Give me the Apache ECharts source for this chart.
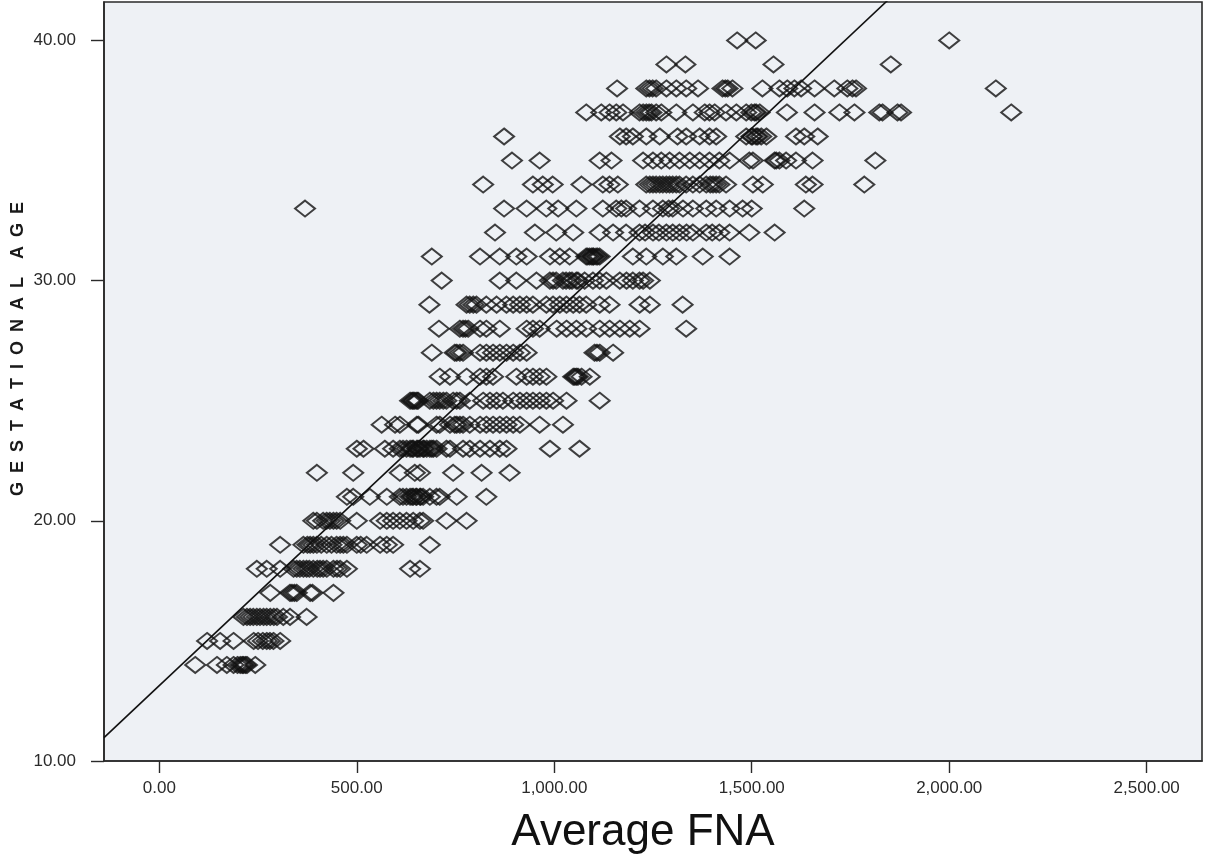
<!DOCTYPE html>
<html>
<head>
<meta charset="utf-8">
<script src="https://cdn.jsdelivr.net/npm/echarts@6/dist/echarts.min.js"></script>
<style>
  html, body { margin: 0; padding: 0; background: #ffffff; }
  #chart { width: 1205px; height: 856px; }
</style>
</head>
<body>
<div id="chart"></div>
<script>
// Average FNA values read per gestational-age row
const fna14 = [91, 146, 171, 188, 198, 205, 210, 213, 218, 222, 243];
const fna15 = [121, 154, 188, 239, 250, 262, 272, 280, 289, 306];
const fna16 = [213, 222, 230, 238, 247, 255, 264, 272, 281, 290, 298, 314, 331, 373];
const fna17 = [281, 331, 336, 342, 348, 382, 388, 441];
const fna18 = [247, 272, 306, 340, 348, 356, 365, 373, 380, 390, 400, 407, 415, 424, 441, 450, 458, 475, 635, 660];
const fna19 = [306, 365, 375, 382, 390, 399, 410, 424, 436, 449, 458, 466, 475, 500, 510, 525, 559, 576, 592, 685];
const fna20 = [390, 399, 415, 424, 432, 441, 449, 458, 500, 559, 576, 592, 609, 626, 643, 660, 668, 727, 778];
const fna21 = [475, 491, 533, 576, 609, 617, 626, 635, 640, 643, 650, 652, 660, 662, 668, 685, 702, 710, 753, 828];
const fna22 = [399, 491, 609, 647, 660, 744, 816, 887];
const fna23 = [500, 517, 571, 592, 609, 617, 626, 635, 640, 643, 652, 655, 660, 668, 670, 677, 685, 690, 694, 702, 727, 736, 769, 786, 812, 837, 862, 879, 989, 1064];
const fna24 = [563, 597, 609, 652, 656, 702, 710, 736, 748, 753, 761, 769, 786, 812, 828, 845, 862, 879, 896, 913, 963, 1022];
const fna25 = [635, 640, 643, 647, 652, 655, 685, 694, 702, 710, 719, 727, 744, 753, 761, 786, 820, 837, 854, 870, 896, 913, 930, 946, 963, 980, 997, 1031, 1115];
const fna26 = [710, 736, 778, 812, 828, 845, 904, 930, 946, 963, 980, 1048, 1052, 1056, 1060, 1069, 1090];
const fna27 = [690, 748, 753, 761, 769, 812, 828, 845, 862, 879, 896, 913, 930, 1102, 1108, 1115, 1149];
const fna28 = [708, 761, 769, 775, 782, 812, 828, 862, 930, 946, 963, 1006, 1031, 1056, 1081, 1115, 1140, 1166, 1191, 1216, 1334];
const fna29 = [684, 778, 786, 795, 803, 828, 854, 879, 896, 913, 930, 946, 980, 997, 1014, 1031, 1048, 1064, 1081, 1115, 1140, 1216, 1242, 1325];
const fna30 = [715, 862, 904, 955, 989, 997, 1005, 1022, 1030, 1039, 1045, 1056, 1060, 1077, 1098, 1115, 1132, 1166, 1183, 1199, 1216, 1225, 1242];
const fna31 = [690, 812, 862, 904, 930, 989, 1014, 1039, 1081, 1085, 1090, 1095, 1098, 1100, 1106, 1110, 1115, 1199, 1233, 1275, 1309, 1376, 1444];
const fna32 = [850, 951, 1005, 1048, 1115, 1149, 1182, 1216, 1230, 1250, 1265, 1284, 1300, 1317, 1335, 1351, 1385, 1400, 1418, 1444, 1494, 1558];
const fna33 = [369, 873, 930, 980, 1010, 1056, 1123, 1157, 1170, 1182, 1216, 1250, 1275, 1290, 1300, 1326, 1351, 1385, 1410, 1444, 1477, 1500, 1633];
const fna34 = [820, 946, 971, 996, 1069, 1123, 1140, 1161, 1233, 1242, 1250, 1258, 1267, 1275, 1284, 1292, 1300, 1309, 1317, 1334, 1351, 1368, 1385, 1395, 1402, 1410, 1418, 1435, 1503, 1528, 1637, 1654, 1785];
const fna35 = [893, 963, 1115, 1145, 1225, 1250, 1271, 1292, 1317, 1343, 1368, 1393, 1418, 1444, 1494, 1503, 1558, 1562, 1570, 1587, 1612, 1654, 1813];
const fna36 = [873, 1166, 1182, 1199, 1233, 1267, 1312, 1334, 1368, 1393, 1410, 1486, 1499, 1502, 1511, 1515, 1524, 1537, 1612, 1633, 1667];
const fna37 = [1081, 1119, 1140, 1157, 1174, 1216, 1225, 1233, 1240, 1246, 1258, 1271, 1309, 1351, 1381, 1393, 1406, 1435, 1461, 1486, 1499, 1507, 1511, 1520, 1589, 1659, 1722, 1760, 1823, 1831, 1869, 1878, 2157];
const fna38 = [1159, 1233, 1241, 1249, 1258, 1284, 1309, 1334, 1364, 1426, 1433, 1439, 1451, 1527, 1570, 1590, 1608, 1625, 1659, 1709, 1742, 1755, 1764, 2118];
const fna39 = [1284, 1332, 1555, 1852];
const fna40 = [1463, 1510, 2000];

const gestationalAges = [14, 15, 16, 17, 18, 19, 20, 21, 22, 23, 24, 25, 26, 27, 28, 29, 30, 31, 32, 33, 34, 35, 36, 37, 38, 39, 40];
const fnaRows = [fna14, fna15, fna16, fna17, fna18, fna19, fna20, fna21, fna22, fna23, fna24, fna25, fna26, fna27, fna28, fna29, fna30, fna31, fna32, fna33, fna34, fna35, fna36, fna37, fna38, fna39, fna40];

// Axis ticks and fit line
const xTickValues = [0, 500, 1000, 1500, 2000, 2500];
const yTickValues = [10, 20, 30, 40];
const xRange = [-140, 2640];
const yRange = [10, 41.6];
const fitIntercept = 13.14;
const fitSlope = 0.01547;

const points = [];
gestationalAges.forEach((age, i) => {
  fnaRows[i].forEach(v => points.push([v, age]));
});
const fitLine = xRange.map(x => [x, fitIntercept + fitSlope * x]);

function fmt(v) {
  const parts = v.toFixed(2).split('.');
  parts[0] = parts[0].replace(/\B(?=(\d{3})+(?!\d))/g, ',');
  return parts.join('.');
}

const FONT = "'Liberation Sans', Arial, Helvetica, sans-serif";
const chart = echarts.init(document.getElementById('chart'), null, { renderer: 'canvas' });
chart.setOption({
  animation: false,
  backgroundColor: '#ffffff',
  grid: {
    left: 104, right: 3, top: 2, bottom: 95,
    show: true, backgroundColor: '#EEF1F5', borderColor: '#2a2a2a', borderWidth: 1.6
  },
  xAxis: {
    type: 'value', min: xRange[0], max: xRange[1],
    splitLine: { show: false },
    axisLine: { show: true, onZero: false, lineStyle: { color: '#2a2a2a', width: 1.6 } },
    axisTick: { show: true, length: 12, customValues: xTickValues, lineStyle: { color: '#2a2a2a', width: 1.4 } },
    axisLabel: { customValues: xTickValues, formatter: fmt, margin: 19, fontSize: 17, color: '#2a2a2a', fontFamily: FONT }
  },
  yAxis: {
    type: 'value', min: yRange[0], max: yRange[1],
    splitLine: { show: false },
    axisLine: { show: true, onZero: false, lineStyle: { color: '#2a2a2a', width: 1.6 } },
    axisTick: { show: true, length: 13, customValues: yTickValues, lineStyle: { color: '#2a2a2a', width: 1.4 } },
    axisLabel: { customValues: yTickValues, formatter: fmt, margin: 28, fontSize: 17, color: '#2a2a2a', fontFamily: FONT }
  },
  graphic: [
    {
      type: 'text', x: 643, y: 833,
      style: { text: 'Average FNA', font: "44px " + FONT, fill: '#111111', textAlign: 'center', textVerticalAlign: 'middle' }
    },
    {
      type: 'text', x: 18, y: 349, rotation: Math.PI / 2,
      style: { text: 'G\u2002E\u2002S\u2002T\u2002A\u2002T\u2002I\u2002O\u2002N\u2002A\u2002L\u2002\u2002A\u2002G\u2002E', font: "bold 18px " + FONT, fill: '#1a1a1a', textAlign: 'center', textVerticalAlign: 'middle' }
    }
  ],
  series: [
    {
      type: 'scatter', data: points, symbol: 'diamond', symbolSize: [20, 16],
      itemStyle: { color: 'rgba(0,0,0,0)', borderColor: '#111111', borderWidth: 2 },
      z: 2
    },
    {
      type: 'line', data: fitLine, showSymbol: false, symbol: 'none',
      lineStyle: { color: '#111111', width: 1.6 }, clip: true, z: 3
    }
  ]
});
</script>
</body>
</html>
